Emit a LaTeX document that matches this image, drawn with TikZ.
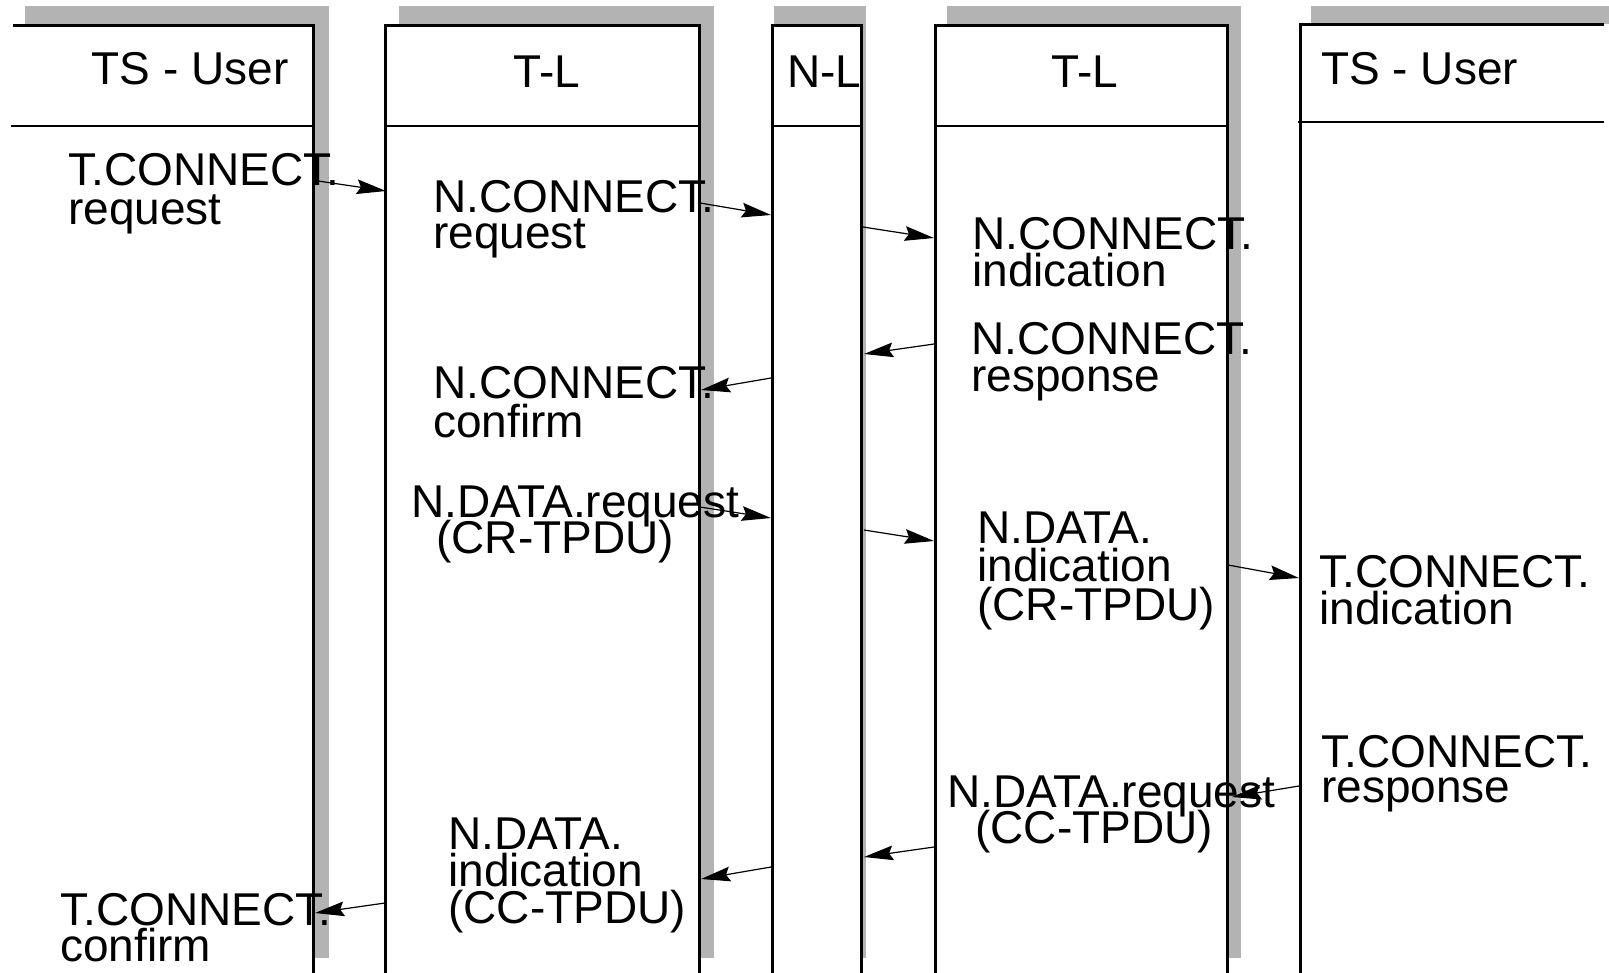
\documentclass[tikz,border=0pt]{standalone}
\usepackage{fontspec}
\setmainfont{Liberation Sans}
\usetikzlibrary{arrows.meta}
\definecolor{shadowgray}{RGB}{179,179,179}
\newcommand\twoline[3]{\vtop{\lineskiplimit=-100pt\baselineskip=#1\relax\hbox{#2}\hbox{#3}}}
\newcommand\threeline[4]{\vtop{\lineskiplimit=-100pt\baselineskip=#1\relax\hbox{#2}\hbox{#3}\hbox{#4}}}
\tikzset{
  boxline/.style={line width=2.25pt},
  divline/.style={line width=1.5pt},
  shadowbox/.style={fill=shadowgray,draw=none},
  msg/.style={line width=0.9pt,-{Stealth[length=22pt,width=11pt,inset=3pt]}},
  lbl/.style={anchor=base west,inner sep=0pt,font=\fontsize{34.5}{28.5}\selectfont},
  hdr/.style={anchor=base,inner sep=0pt,font=\fontsize{34.5}{38}\selectfont},
  hdrw/.style={anchor=base west,inner sep=0pt,font=\fontsize{34.5}{38}\selectfont},
}
\begin{document}
\begin{tikzpicture}[x=0.75pt,y=-0.75pt]
\clip (0,0) rectangle (1609,972);
\fill[white] (0,0) rectangle (1609,972);
% shadows
\path[shadowbox] (25,6) rectangle (329,958);
\path[shadowbox] (399,6) rectangle (714,958);
\path[shadowbox] (774,6) rectangle (866,958);
\path[shadowbox] (947,6) rectangle (1241,958);
\path[shadowbox] (1311,6) rectangle (1620,958);
% lifeline boxes
\fill[white] (13,25) rectangle (313,990);
\draw[boxline] (13,25) -- (313,25) -- (313,990);
\draw[divline] (11,126) -- (313,126);
\filldraw[fill=white,boxline] (385,25) rectangle (699,990);
\draw[divline] (385,126) -- (699,126);
\filldraw[fill=white,boxline] (772,25) rectangle (861,990);
\draw[divline] (772,126) -- (861,126);
\filldraw[fill=white,boxline] (935,25) rectangle (1227,990);
\draw[divline] (935,126) -- (1227,126);
\fill[white] (1300,24) rectangle (1620,990);
\draw[boxline] (1604,24) -- (1300,24) -- (1300,990);
\draw[divline] (1298,122) -- (1604,122);
% headers
\node[hdr] (h1) at (190,84) {TS - User};
\node[hdr] (h2) at (547,87) {T-L};
\node[hdrw] (h3) at (787,87) {N-L};
\node[hdr] (h4) at (1085,87) {T-L};
\node[hdrw] (h5) at (1321,84) {TS - User};
% arrow end points
\coordinate (a1s) at (318,181);  \coordinate (a1e) at (386,191);
\coordinate (a2s) at (700,203);  \coordinate (a2e) at (771,215);
\coordinate (a3s) at (863,227);  \coordinate (a3e) at (934,238);
\coordinate (a4s) at (934,344);  \coordinate (a4e) at (864,354);
\coordinate (a5s) at (771,378);  \coordinate (a5e) at (701,390);
\coordinate (a6s) at (700,507);  \coordinate (a6e) at (771,518);
\coordinate (a7s) at (864,530);  \coordinate (a7e) at (934,541);
\coordinate (a8s) at (1228,565); \coordinate (a8e) at (1299,578);
\coordinate (a9s) at (1299,786); \coordinate (a9e) at (1232,797);
\coordinate (a10s) at (934,847); \coordinate (a10e) at (864,857);
\coordinate (a11s) at (771,867); \coordinate (a11e) at (701,879);
\coordinate (a12s) at (385,903); \coordinate (a12e) at (315,913);
% labels
\node[lbl] (l1) at (68,185) {\twoline{29.25pt}{T.CONNECT.}{request}};
\node[lbl] (l2) at (433,212) {\twoline{27.5pt}{N.CONNECT.}{request}};
\node[lbl] (l3) at (972,249) {\twoline{27.75pt}{N.CONNECT.}{indication}};
\node[lbl] (l4) at (971,354) {\twoline{27.75pt}{N.CONNECT.}{response}};
\node[lbl] (l5) at (433,398) {\twoline{29.25pt}{N.CONNECT.}{confirm}};
\node[lbl] (l6) at (411,517) {\twoline{27pt}{N.DATA.request}{\kern18.75pt(CR-TPDU)}};
\node[lbl] (l7) at (977,543) {\threeline{28.9pt}{N.DATA.}{indication}{(CR-TPDU)}};
\node[lbl] (l8) at (1319,587) {\twoline{27.75pt}{T.CONNECT.}{indication}};
\node[lbl] (l9) at (1321,767) {\twoline{26.5pt}{T.CONNECT.}{response}};
\node[lbl] (l10) at (947,807) {\twoline{27pt}{N.DATA.request}{\kern21pt(CC-TPDU)}};
\node[lbl] (l11) at (448,849) {\threeline{28pt}{N.DATA.}{indication}{(CC-TPDU)}};
\node[lbl] (l12) at (60,925) {\twoline{27pt}{T.CONNECT.}{confirm}};
% messages
\draw[msg] (a1s) -- (a1e);
\draw[msg] (a2s) -- (a2e);
\draw[msg] (a3s) -- (a3e);
\draw[msg] (a4s) -- (a4e);
\draw[msg] (a5s) -- (a5e);
\draw[msg] (a6s) -- (a6e);
\draw[msg] (a7s) -- (a7e);
\draw[msg] (a8s) -- (a8e);
\draw[msg] (a9s) -- (a9e);
\draw[msg] (a10s) -- (a10e);
\draw[msg] (a11s) -- (a11e);
\draw[msg] (a12s) -- (a12e);
\end{tikzpicture}
\end{document}
